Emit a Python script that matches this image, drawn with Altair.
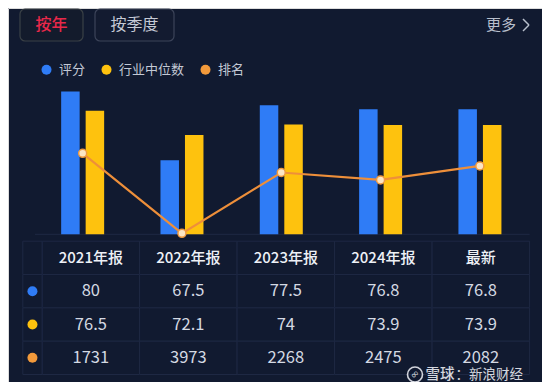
import altair as alt
import pandas as pd

# ---------------- data ----------------
years = ["2021年报", "2022年报", "2023年报", "2024年报", "最新"]
score = [80, 67.5, 77.5, 76.8, 76.8]
median = [76.5, 72.1, 74, 73.9, 73.9]
rank = [1731, 3973, 2268, 2475, 2082]
series = ["评分", "行业中位数", "排名"]
colors = ["#2f7cf6", "#fec20e", "#f39a3b"]
header_key = "hdr"
table_rows = [header_key] + series

FONT = "Noto Sans CJK SC"
BG = "#111a30"

bars_df = pd.DataFrame(
    [{"year": y, "series": s, "value": v}
     for s, vals in ((series[0], score), (series[1], median))
     for y, v in zip(years, vals)]
)
rank_df = pd.DataFrame({"year": years, "rank": rank})
cells_df = pd.DataFrame([{"row": r, "col": c} for r in table_rows for c in years])
dotcells_df = pd.DataFrame({"row": table_rows, "col": ["dot"] * len(table_rows)})
hdr_df = pd.DataFrame({"col": years, "row": [header_key] * len(years)})
val_df = pd.DataFrame(
    [{"row": s, "col": y, "label": f"{v:g}"}
     for s, vals in zip(series, [score, median, rank])
     for y, v in zip(years, vals)]
)
tdots_df = pd.DataFrame({"row": series, "series": series, "col": ["dot"] * 3})
one = pd.DataFrame({"k": [0]})

# ---------------- scales ----------------
bar_x = alt.Scale(domain=years, range=[25, 521.6], paddingInner=0, paddingOuter=0)
bar_off = alt.Scale(domain=series[:2], range=[28.15, 71.15], paddingInner=0.245, paddingOuter=0)
bar_y = alt.Scale(domain=[54, 80], range=[226.3, 83.6], zero=False, nice=False)
pt_x = alt.Scale(type="point", domain=years, range=[74.65, 471.85], padding=0)
rank_y = alt.Scale(domain=[0, 4000], range=[83.6, 226.3], zero=False, nice=False)
tab_x = alt.Scale(domain=years, range=[34.1, 521.6], paddingInner=0, paddingOuter=0)
dot_x = alt.Scale(domain=["dot"], range=[14.8, 34.1], paddingInner=0, paddingOuter=0)
tab_y = alt.Scale(domain=table_rows, range=[233.2, 366.5], paddingInner=0, paddingOuter=0)
color_scale = alt.Scale(domain=series, range=colors)

# ---------------- layers ----------------
baseline = alt.Chart(one).mark_rule(color="#1f2944", strokeWidth=1).encode(
    x=alt.value(27), x2=alt.value(521.6), y=alt.value(226.3)
)

bars = alt.Chart(bars_df).mark_bar().encode(
    x=alt.X("year:N", sort=years, scale=bar_x, axis=None),
    xOffset=alt.XOffset("series:N", sort=series[:2], scale=bar_off),
    y=alt.Y("value:Q", scale=bar_y, axis=None),
    y2=alt.datum(54),
    color=alt.Color(
        "series:N", scale=color_scale,
        legend=alt.Legend(
            title=None, orient="none", legendX=32, legendY=55, direction="horizontal",
            symbolType="circle", symbolSize=100, symbolStrokeWidth=0, symbolOpacity=1,
            labelFontSize=13, labelColor="#c3c9d5", labelFont=FONT, labelOffset=6,
            columnPadding=14, padding=0,
        ),
    ),
)

line = alt.Chart(rank_df).mark_line(color="#ee8f3a", strokeWidth=2.2).encode(
    x=alt.X("year:N", sort=years, scale=pt_x, axis=None),
    y=alt.Y("rank:Q", scale=rank_y, axis=None),
)
points = alt.Chart(rank_df).mark_circle(
    size=64, color="#fde6c4", stroke="#f09a40", strokeWidth=1.5, opacity=1
).encode(
    x=alt.X("year:N", sort=years, scale=pt_x, axis=None),
    y=alt.Y("rank:Q", scale=rank_y, axis=None),
)

cells = alt.Chart(cells_df).mark_rect(fill=BG, stroke="#1e2843", strokeWidth=1).encode(
    x=alt.X("col:N", sort=years, scale=tab_x, axis=None),
    y=alt.Y("row:N", sort=table_rows, scale=tab_y, axis=None),
)
dotcells = alt.Chart(dotcells_df).mark_rect(fill=BG, stroke="#1e2843", strokeWidth=1).encode(
    x=alt.X("col:N", scale=dot_x, axis=None),
    y=alt.Y("row:N", sort=table_rows, scale=tab_y, axis=None),
)
hdr = alt.Chart(hdr_df).mark_text(
    fontSize=15, fontWeight=500, color="#eef1f7", baseline="middle", align="center"
).encode(
    x=alt.X("col:N", sort=years, scale=tab_x, axis=None),
    y=alt.Y("row:N", sort=table_rows, scale=tab_y, axis=None),
    text="col:N",
)
vals = alt.Chart(val_df).mark_text(
    fontSize=16.5, color="#d4d9e3", baseline="middle", align="center"
).encode(
    x=alt.X("col:N", sort=years, scale=tab_x, axis=None),
    y=alt.Y("row:N", sort=table_rows, scale=tab_y, axis=None),
    text="label:N",
)
tdots = alt.Chart(tdots_df).mark_circle(size=100, opacity=1).encode(
    x=alt.X("col:N", scale=dot_x, axis=None),
    y=alt.Y("row:N", sort=table_rows, scale=tab_y, axis=None),
    color=alt.Color("series:N", scale=color_scale, legend=None),
)

# ---------------- header chrome ----------------
btn1 = alt.Chart(one).mark_rect(fill="#131b2c", stroke="#3a4146", strokeWidth=1.2, cornerRadius=5).encode(
    x=alt.value(12), x2=alt.value(75), y=alt.value(1), y2=alt.value(33)
)
btn1_t = alt.Chart(one).mark_text(text="按年", fontSize=16, fontWeight=500, color="#e8284a").encode(
    x=alt.value(43.5), y=alt.value(17)
)
btn2 = alt.Chart(one).mark_rect(fill="#131b30", stroke="#3c4459", strokeWidth=1.2, cornerRadius=5).encode(
    x=alt.value(87), x2=alt.value(166), y=alt.value(1), y2=alt.value(33)
)
btn2_t = alt.Chart(one).mark_text(text="按季度", fontSize=16, color="#c5cad6").encode(
    x=alt.value(126.5), y=alt.value(17)
)
more_t = alt.Chart(one).mark_text(text="更多", fontSize=15, color="#b8bfcc").encode(
    x=alt.value(493), y=alt.value(17)
)
chev1 = alt.Chart(one).mark_rule(color="#b8bfcc", strokeWidth=1.5).encode(
    x=alt.value(515), y=alt.value(11), x2=alt.value(521), y2=alt.value(17)
)
chev2 = alt.Chart(one).mark_rule(color="#b8bfcc", strokeWidth=1.5).encode(
    x=alt.value(521), y=alt.value(17), x2=alt.value(515), y2=alt.value(23)
)

# ---------------- watermark ----------------
WM_Y = 366.5
wm_ring = alt.Chart(one).mark_point(shape="circle", size=225, filled=False, stroke="#e6e8ee",
                                    strokeWidth=1.6, opacity=0.9).encode(
    x=alt.value(407), y=alt.value(WM_Y)
)
wm_icon = alt.Chart(one).mark_text(text="∞", font="DejaVu Sans", fontSize=10.5, angle=315,
                                   color="#e6e8ee", opacity=0.9).encode(
    x=alt.value(407), y=alt.value(WM_Y)
)
wm_text1 = alt.Chart(one).mark_text(text="雪球", fontSize=14.5, fontWeight=500, align="left",
                                    baseline="middle", color="#e6e8ee", opacity=0.92).encode(
    x=alt.value(417.5), y=alt.value(WM_Y)
)
wm_text2 = alt.Chart(one).mark_text(text="：新浪财经", fontSize=13.5, align="left",
                                    baseline="middle", color="#e6e8ee", opacity=0.92).encode(
    x=alt.value(447.5), y=alt.value(WM_Y)
)

chart = (
    alt.layer(
        baseline, bars, line, points,
        cells, dotcells, hdr, vals, tdots,
        btn1, btn1_t, btn2, btn2_t, more_t, chev1, chev2,
        wm_ring, wm_icon, wm_text1, wm_text2,
    )
    .resolve_scale(x="independent", y="independent")
    .properties(width=534, height=374, padding=0, autosize="none", background=BG)
    .configure_view(stroke=None)
    .configure(font=FONT)
)

chart.save("out.html", embed_options={"renderer": "svg", "actions": False})
